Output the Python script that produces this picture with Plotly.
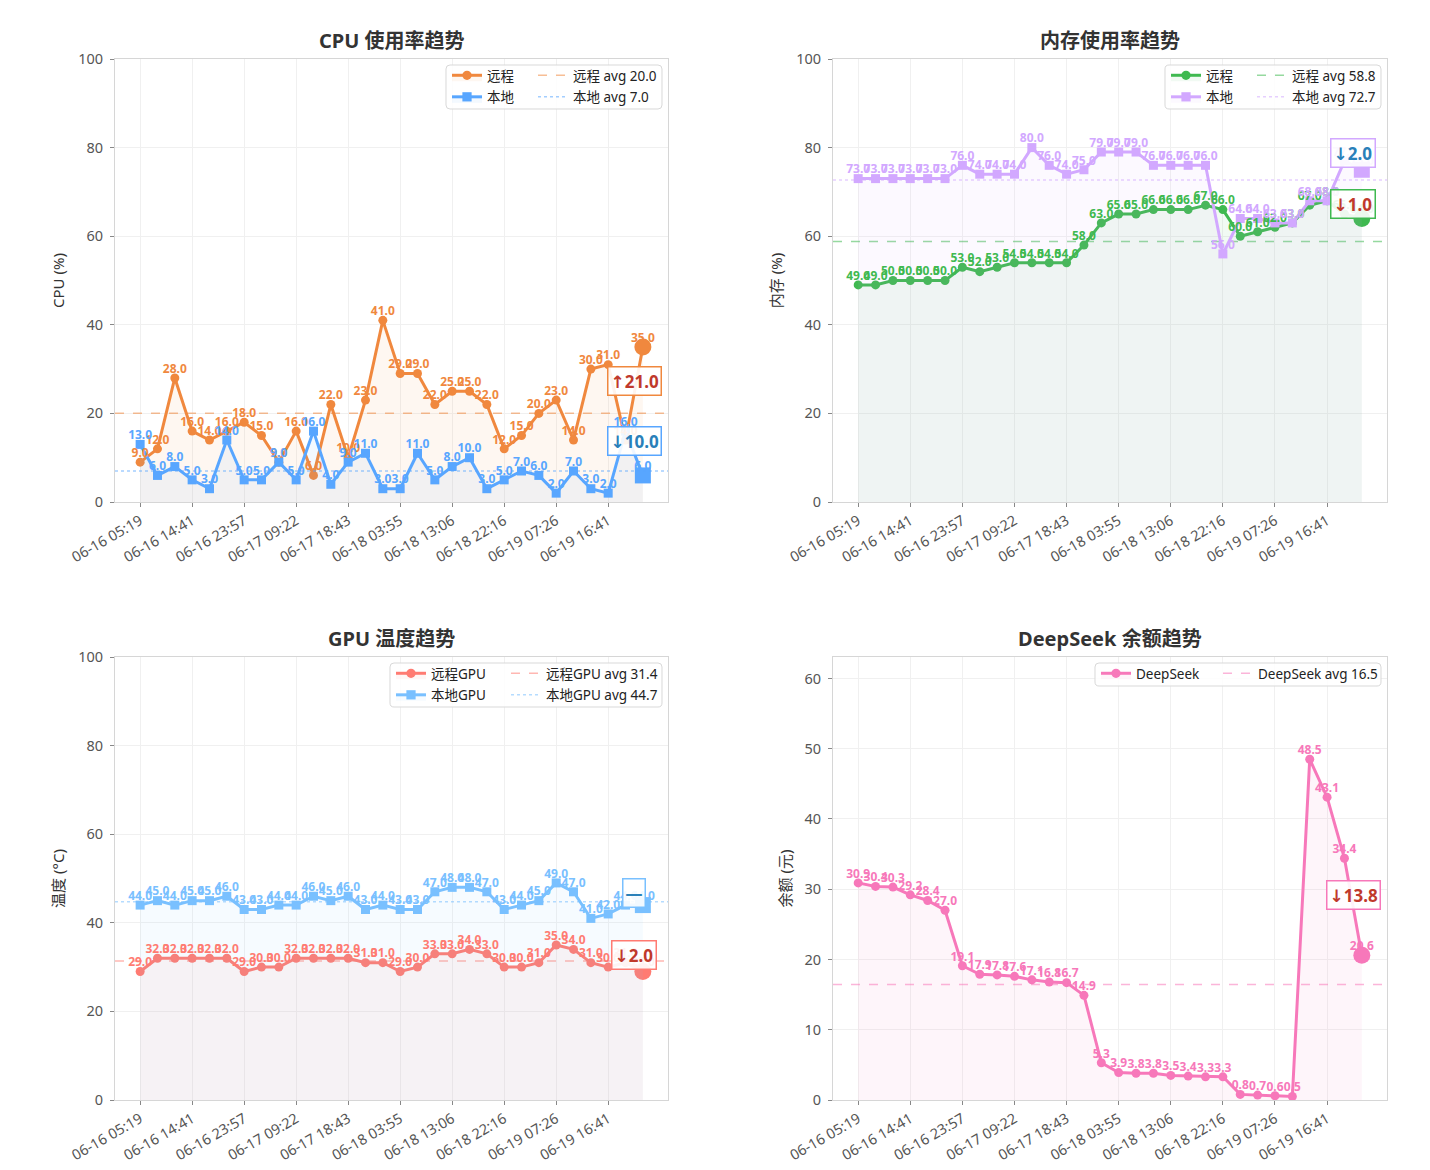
import numpy as np
import plotly.graph_objects as go

# ---------------- data ----------------
tick_labels = ["06-16 05:19", "06-16 14:41", "06-16 23:57", "06-17 09:22", "06-17 18:43",
               "06-18 03:55", "06-18 13:06", "06-18 22:16", "06-19 07:26", "06-19 16:41"]
tick_index = [0, 3, 6, 9, 12, 15, 18, 21, 24, 27]
n_points = 30

cpu_remote = [9, 12, 28, 16, 14, 16, 18, 15, 9, 16, 6, 22, 10, 23, 41, 29, 29, 22, 25, 25,
              22, 12, 15, 20, 23, 14, 30, 31, 14, 35]
cpu_local = [13, 6, 8, 5, 3, 14, 5, 5, 9, 5, 16, 4, 9, 11, 3, 3, 11, 5, 8, 10,
             3, 5, 7, 6, 2, 7, 3, 2, 16, 6]
mem_remote = [49, 49, 50, 50, 50, 50, 53, 52, 53, 54, 54, 54, 54, 58, 63, 65, 65, 66, 66, 66,
              67, 66, 60, 61, 62, 63, 67, 68, 65, 64]
mem_local = [73, 73, 73, 73, 73, 73, 76, 74, 74, 74, 80, 76, 74, 75, 79, 79, 79, 76, 76, 76,
             76, 56, 64, 64, 63, 63, 68, 68, 77, 75]
gpu_remote = [29, 32, 32, 32, 32, 32, 29, 30, 30, 32, 32, 32, 32, 31, 31, 29, 30, 33, 33, 34,
              33, 30, 30, 31, 35, 34, 31, 30, 31, 29]
gpu_local = [44, 45, 44, 45, 45, 46, 43, 43, 44, 44, 46, 45, 46, 43, 44, 43, 43, 47, 48, 48,
             47, 43, 44, 45, 49, 47, 41, 42, 44, 44]
deepseek = [30.9, 30.4, 30.3, 29.2, 28.4, 27.0, 19.1, 17.9, 17.8, 17.6, 17.1, 16.8, 16.7, 14.9,
            5.3, 3.9, 3.8, 3.8, 3.5, 3.4, 3.3, 3.3, 0.8, 0.7, 0.6, 0.5, 48.5, 43.1, 34.4, 20.6]

# ---------------- style ----------------
W, H = 1430, 1170
FONT = "Noto Sans, Noto Sans CJK SC, sans-serif"
CHANGE_COLORS = ["#c0392b", "#2980b9"]
x_idx = list(range(n_points))
x_range = [-0.05 * (n_points - 1), (n_points - 1) * 1.05]


def rgba(hex_color, a):
    h = hex_color.lstrip("#")
    r, g, b = int(h[0:2], 16), int(h[2:4], 16), int(h[4:6], 16)
    return f"rgba({r},{g},{b},{a})"


def px_x(px):
    return px / W


def px_y(py):
    return 1 - py / H


def rounded_rect_path(x0, y0, x1, y1, r):
    X = lambda v: f"{px_x(v):.6f}"
    Y = lambda v: f"{px_y(v):.6f}"
    return (f"M {X(x0 + r)},{Y(y0)} L {X(x1 - r)},{Y(y0)} Q {X(x1)},{Y(y0)} {X(x1)},{Y(y0 + r)} "
            f"L {X(x1)},{Y(y1 - r)} Q {X(x1)},{Y(y1)} {X(x1 - r)},{Y(y1)} "
            f"L {X(x0 + r)},{Y(y1)} Q {X(x0)},{Y(y1)} {X(x0)},{Y(y1 - r)} "
            f"L {X(x0)},{Y(y0 + r)} Q {X(x0)},{Y(y0)} {X(x0 + r)},{Y(y0)} Z")


panels = [
    dict(title="CPU 使用率趋势", ytitle="CPU (%)", yrange=[0, 100], dtick=20,
         box=(115, 59, 668, 502),
         series=[("远程", cpu_remote, "#f0883e", "circle", "dash"),
                 ("本地", cpu_local, "#58a6ff", "square", "dot")],
         leg_cols=(447, 533), leg_top=60, leg_box=(446, 65, 662, 109)),
    dict(title="内存使用率趋势", ytitle="内存 (%)", yrange=[0, 100], dtick=20,
         box=(833, 59, 1387, 502),
         series=[("远程", mem_remote, "#3fb950", "circle", "dash"),
                 ("本地", mem_local, "#d2a8ff", "square", "dot")],
         leg_cols=(1166, 1252), leg_top=60, leg_box=(1165, 65, 1381, 109)),
    dict(title="GPU 温度趋势", ytitle="温度 (°C)", yrange=[0, 100], dtick=20,
         box=(115, 657, 668, 1100),
         series=[("远程GPU", gpu_remote, "#ff7b72", "circle", "dash"),
                 ("本地GPU", gpu_local, "#79c0ff", "square", "dot")],
         leg_cols=(391, 506), leg_top=658, leg_box=(390, 663, 662, 707)),
    dict(title="DeepSeek 余额趋势", ytitle="余额 (元)", yrange=[0, max(deepseek) * 1.3], dtick=10,
         box=(833, 657, 1387, 1100),
         series=[("DeepSeek", deepseek, "#f778ba", "circle", "dash")],
         leg_cols=(1096, 1218), leg_top=658, leg_box=(1095, 663, 1381, 686)),
]

fig = go.Figure()
layout = dict(width=W, height=H, margin=dict(l=0, r=0, t=0, b=0, autoexpand=False),
              paper_bgcolor="white", plot_bgcolor="white", showlegend=True,
              font=dict(family=FONT, color="#333"))
shapes = []
annotations = []
legend_count = 0

for p_i, p in enumerate(panels):
    ax_n = "" if p_i == 0 else str(p_i + 1)
    xref, yref = "x" + ax_n, "y" + ax_n
    x0, y0, x1, y1 = p["box"]
    layout["xaxis" + ax_n] = dict(
        domain=[px_x(x0), px_x(x1)], anchor=yref, range=x_range, automargin=False,
        tickmode="array", tickvals=tick_index, ticktext=tick_labels, tickangle=-30,
        showgrid=True, gridcolor="#f0f0f0", gridwidth=1, zeroline=False,
        showline=True, linecolor="#d6d6d6", linewidth=1, mirror=True,
        ticks="outside", ticklen=4, tickcolor="#888",
        tickfont=dict(size=14.5, color="#555", family=FONT))
    layout["yaxis" + ax_n] = dict(
        domain=[px_y(y1), px_y(y0)], anchor=xref, range=p["yrange"], dtick=p["dtick"], tick0=0,
        automargin=False,
        showgrid=True, gridcolor="#f0f0f0", gridwidth=1, zeroline=False,
        showline=True, linecolor="#d6d6d6", linewidth=1, mirror=True,
        ticks="outside", ticklen=4, tickcolor="#888", ticklabelstandoff=4,
        tickfont=dict(size=14.5, color="#555", family=FONT),
        title=dict(text=p["ytitle"], font=dict(size=15, color="#333", family=FONT), standoff=9))

    # title
    annotations.append(dict(text=p["title"], xref="paper", yref="paper",
                            x=(px_x(x0) + px_x(x1)) / 2, y=px_y(y0), xanchor="center",
                            yanchor="bottom", yshift=3, showarrow=False,
                            font=dict(size=20, color="#333", family=FONT, weight="bold")))

    # legend box
    bx0, by0, bx1, by1 = p["leg_box"]
    shapes.append(dict(type="path", xref="paper", yref="paper", layer="above",
                       path=rounded_rect_path(bx0, by0, bx1, by1, 4),
                       fillcolor="rgba(255,255,255,0.85)", line=dict(color="#d9d9d9", width=1)))

    leg1 = "legend" if legend_count == 0 else f"legend{legend_count + 1}"
    leg2 = f"legend{legend_count + 2}"
    legend_count += 2
    for leg, lx in ((leg1, p["leg_cols"][0]), (leg2, p["leg_cols"][1])):
        layout[leg] = dict(x=px_x(lx), y=px_y(p["leg_top"]), xanchor="left", yanchor="top",
                           bgcolor="rgba(0,0,0,0)", borderwidth=0, tracegroupgap=1,
                           itemwidth=30, font=dict(size=13.5, color="#222", family=FONT))

    # series
    for s_i, (name, vals, color, symbol, dash) in enumerate(p["series"]):
        vals = list(vals)
        big = 17 if symbol == "circle" else 16
        sizes = [9] * (len(vals) - 1) + [big]
        fig.add_trace(go.Scatter(
            x=x_idx, y=vals, mode="lines+markers", name=name, xaxis=xref, yaxis=yref,
            line=dict(color=color, width=3), fill="tozeroy", fillcolor=rgba(color, 0.07),
            marker=dict(symbol=symbol, size=sizes, color=color, opacity=1,
                        line=dict(width=0)),
            legend=leg1, legendgroup=f"{p_i}-{name}", hoverinfo="skip"))
        avg = float(np.mean(vals))
        fig.add_trace(go.Scatter(
            x=x_range, y=[avg, avg], mode="lines", name=f"{name} avg {avg:.1f}",
            xaxis=xref, yaxis=yref,
            line=dict(color=rgba(color, 0.55), width=1.5, dash=dash),
            legend=leg2, legendgroup=f"{p_i}-{name}-avg", hoverinfo="skip"))

        # last-change box
        diff = vals[-1] - vals[-2]
        arrow_span = '<span style="font-family:DejaVu Sans">{}</span>'
        if abs(diff) < 1e-9:
            ctext = "—"
        elif diff > 0:
            ctext = arrow_span.format("↑") + f"{abs(diff):.1f}"
        else:
            ctext = arrow_span.format("↓") + f"{abs(diff):.1f}"
        annotations.append(dict(
            text=ctext, xref=xref, yref=yref, x=len(vals) - 1.5, y=(vals[-1] + vals[-2]) / 2,
            xanchor="center", yanchor="bottom", yshift=-3, showarrow=False,
            font=dict(size=17, color=CHANGE_COLORS[s_i], family=FONT, weight="bold"),
            bgcolor="rgba(255,255,255,0.9)", bordercolor=color, borderwidth=1.5, borderpad=2))

    # data labels (drawn on top)
    for name, vals, color, symbol, dash in p["series"]:
        fig.add_trace(go.Scatter(
            x=x_idx, y=list(vals), mode="markers+text", xaxis=xref, yaxis=yref,
            text=[f"{v:.1f}" for v in vals], textposition="top center",
            textfont=dict(size=12, color=color, family=FONT, weight="bold"),
            marker=dict(size=2, color="rgba(0,0,0,0)", opacity=1, line=dict(width=0)),
            showlegend=False, hoverinfo="skip", cliponaxis=False))

layout["shapes"] = shapes
layout["annotations"] = annotations
fig.update_layout(**layout)
fig.write_html("out.html")
